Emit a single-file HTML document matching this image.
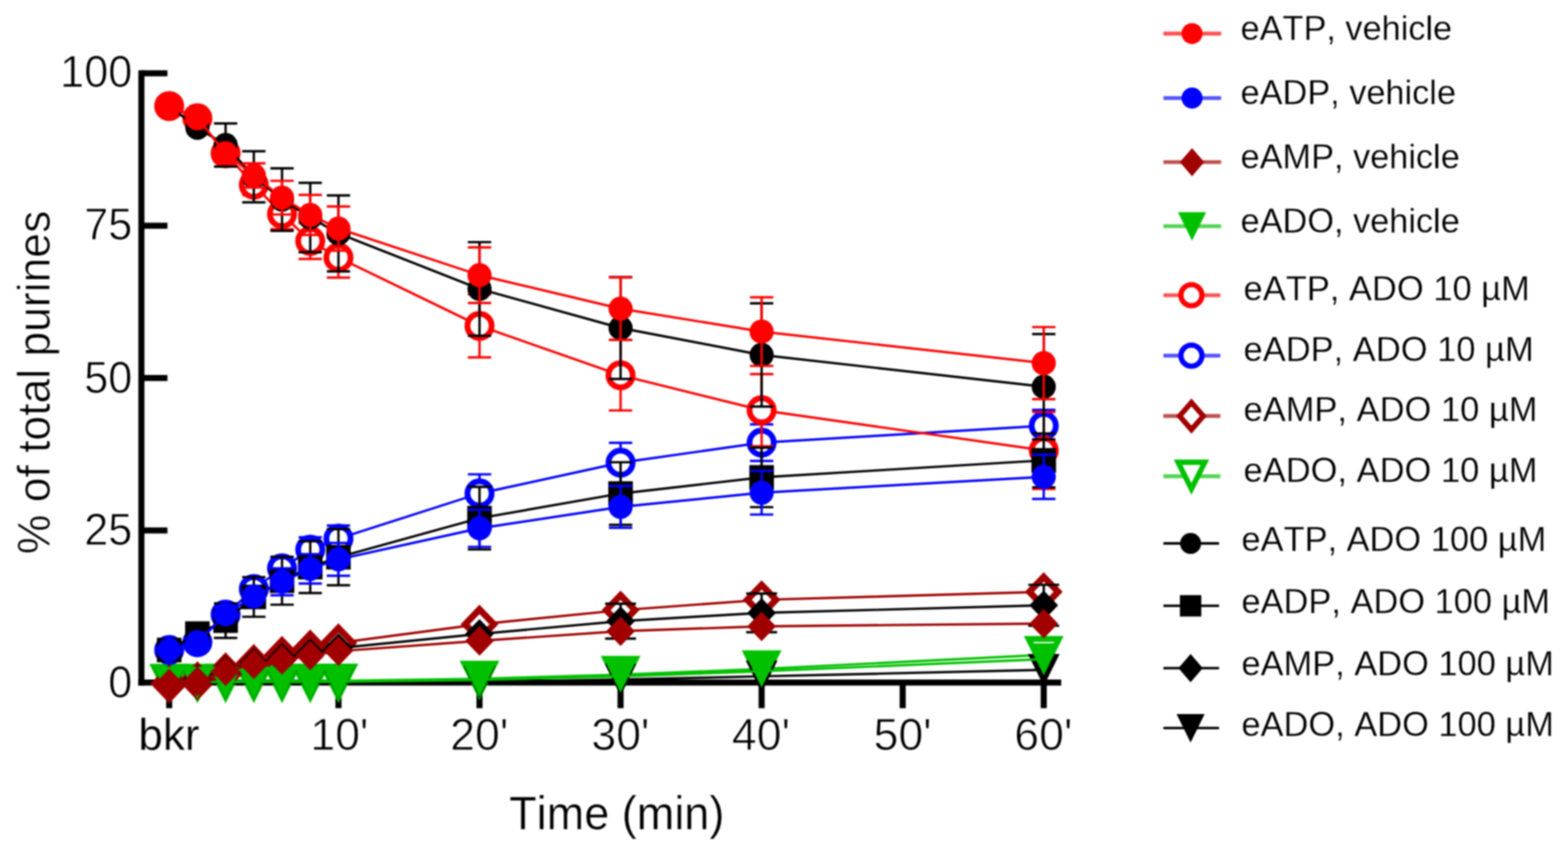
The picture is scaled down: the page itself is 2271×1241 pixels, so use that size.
<!DOCTYPE html>
<html lang="en"><head><meta charset="utf-8"><title>Purine time course</title>
<style>html,body{margin:0;padding:0;background:#fff;}svg{display:block;}text{font-family:"Liberation Sans",Arial,sans-serif;fill:#000;font-kerning:none;stroke:#fff;stroke-width:0.6px;stroke-linejoin:round;}</style>
</head><body>
<svg width="2271" height="1241" viewBox="0 0 2271 1241">
<defs><filter id="soft" x="0" y="0" width="2271" height="1241" filterUnits="userSpaceOnUse" color-interpolation-filters="sRGB"><feGaussianBlur stdDeviation="1"/></filter></defs>
<g filter="url(#soft)">
<rect x="-20" y="-20" width="2311" height="1281" fill="#fff"/>
<g id="axes" stroke="#000" stroke-width="8.8" fill="none" stroke-linecap="butt">
<line x1="204.8" y1="101.8" x2="204.8" y2="992.8"/>
<line x1="200.4" y1="988.4" x2="1537" y2="988.4"/>
<line x1="204.8" y1="768.07" x2="242.5" y2="768.07"/>
<line x1="204.8" y1="547.45" x2="242.5" y2="547.45"/>
<line x1="204.8" y1="326.82" x2="242.5" y2="326.82"/>
<line x1="204.8" y1="106.2" x2="242.5" y2="106.2"/>
<line x1="245.04" y1="988.4" x2="245.04" y2="1025.5"/>
<line x1="490.2" y1="988.4" x2="490.2" y2="1025.5"/>
<line x1="694.5" y1="988.4" x2="694.5" y2="1025.5"/>
<line x1="898.8" y1="988.4" x2="898.8" y2="1025.5"/>
<line x1="1103.1" y1="988.4" x2="1103.1" y2="1025.5"/>
<line x1="1307.4" y1="988.4" x2="1307.4" y2="1025.5"/>
<line x1="1511.7" y1="988.4" x2="1511.7" y2="1025.5"/>
</g>
<g id="S8">
<polyline points="245.04,986.2 285.9,986.2 326.76,986.2 367.62,986.2 408.48,986.2 449.34,986.2 490.2,985.8 694.5,982.9 898.8,976.9 1103.1,968.8 1511.7,948.2" fill="none" stroke="#00c000" stroke-width="3.4" stroke-linejoin="round"/>
<polygon points="223.04,965.5 267.04,965.5 245.04,1009.2" fill="#fff" stroke="#00c000" stroke-width="8.4" stroke-linejoin="miter" stroke-miterlimit="6"/>
<polygon points="263.9,965.5 307.9,965.5 285.9,1009.2" fill="#fff" stroke="#00c000" stroke-width="8.4" stroke-linejoin="miter" stroke-miterlimit="6"/>
<polygon points="304.76,965.5 348.76,965.5 326.76,1009.2" fill="#fff" stroke="#00c000" stroke-width="8.4" stroke-linejoin="miter" stroke-miterlimit="6"/>
<polygon points="345.62,965.5 389.62,965.5 367.62,1009.2" fill="#fff" stroke="#00c000" stroke-width="8.4" stroke-linejoin="miter" stroke-miterlimit="6"/>
<polygon points="386.48,965.5 430.48,965.5 408.48,1009.2" fill="#fff" stroke="#00c000" stroke-width="8.4" stroke-linejoin="miter" stroke-miterlimit="6"/>
<polygon points="427.34,965.5 471.34,965.5 449.34,1009.2" fill="#fff" stroke="#00c000" stroke-width="8.4" stroke-linejoin="miter" stroke-miterlimit="6"/>
<polygon points="468.2,965.1 512.2,965.1 490.2,1008.8" fill="#fff" stroke="#00c000" stroke-width="8.4" stroke-linejoin="miter" stroke-miterlimit="6"/>
<polygon points="672.5,961 716.5,961 694.5,1004.7" fill="#fff" stroke="#00c000" stroke-width="8.4" stroke-linejoin="miter" stroke-miterlimit="6"/>
<polygon points="876.8,954 920.8,954 898.8,997.7" fill="#fff" stroke="#00c000" stroke-width="8.4" stroke-linejoin="miter" stroke-miterlimit="6"/>
<polygon points="1081.1,945.9 1125.1,945.9 1103.1,989.6" fill="#fff" stroke="#00c000" stroke-width="8.4" stroke-linejoin="miter" stroke-miterlimit="6"/>
<polygon points="1489.7,925.3 1533.7,925.3 1511.7,969" fill="#fff" stroke="#00c000" stroke-width="8.4" stroke-linejoin="miter" stroke-miterlimit="6"/>
</g>
<g id="S7">
<polyline points="245.04,990 285.9,986 326.76,973 367.62,961 408.48,949.25 449.34,940 490.2,931 694.5,904 898.8,883.6 1103.1,868.6 1511.7,857" fill="none" stroke="#a00000" stroke-width="3.4" stroke-linejoin="round"/>
<polygon points="245.04,968.4 265.84,990 245.04,1011.6 224.24,990" fill="#fff" stroke="#a00000" stroke-width="9.4" stroke-linejoin="miter" stroke-miterlimit="4"/>
<polygon points="285.9,964.4 306.7,986 285.9,1007.6 265.1,986" fill="#fff" stroke="#a00000" stroke-width="9.4" stroke-linejoin="miter" stroke-miterlimit="4"/>
<polygon points="326.76,951.4 347.56,973 326.76,994.6 305.96,973" fill="#fff" stroke="#a00000" stroke-width="9.4" stroke-linejoin="miter" stroke-miterlimit="4"/>
<polygon points="367.62,939.4 388.42,961 367.62,982.6 346.82,961" fill="#fff" stroke="#a00000" stroke-width="9.4" stroke-linejoin="miter" stroke-miterlimit="4"/>
<polygon points="408.48,927.65 429.28,949.25 408.48,970.85 387.68,949.25" fill="#fff" stroke="#a00000" stroke-width="9.4" stroke-linejoin="miter" stroke-miterlimit="4"/>
<polygon points="449.34,918.4 470.14,940 449.34,961.6 428.54,940" fill="#fff" stroke="#a00000" stroke-width="9.4" stroke-linejoin="miter" stroke-miterlimit="4"/>
<polygon points="490.2,909.4 511,931 490.2,952.6 469.4,931" fill="#fff" stroke="#a00000" stroke-width="9.4" stroke-linejoin="miter" stroke-miterlimit="4"/>
<polygon points="694.5,882.4 715.3,904 694.5,925.6 673.7,904" fill="#fff" stroke="#a00000" stroke-width="9.4" stroke-linejoin="miter" stroke-miterlimit="4"/>
<polygon points="898.8,862 919.6,883.6 898.8,905.2 878,883.6" fill="#fff" stroke="#a00000" stroke-width="9.4" stroke-linejoin="miter" stroke-miterlimit="4"/>
<polygon points="1103.1,847 1123.9,868.6 1103.1,890.2 1082.3,868.6" fill="#fff" stroke="#a00000" stroke-width="9.4" stroke-linejoin="miter" stroke-miterlimit="4"/>
<polygon points="1511.7,835.4 1532.5,857 1511.7,878.6 1490.9,857" fill="#fff" stroke="#a00000" stroke-width="9.4" stroke-linejoin="miter" stroke-miterlimit="4"/>
</g>
<g id="S6">
<polyline points="245.04,941.25 285.9,930 326.76,890 367.62,853 408.48,823 449.34,796 490.2,780 694.5,714.5 898.8,670 1103.1,641 1511.7,616.5" fill="none" stroke="#0000ff" stroke-width="3.4" stroke-linejoin="round"/>
<path d="M408.48 808V838M391.58 808H425.38M391.58 838H425.38M449.34 778V814M432.44 778H466.24M432.44 814H466.24M490.2 761V799M473.3 761H507.1M473.3 799H507.1M694.5 686.9V742.1M677.6 686.9H711.4M677.6 742.1H711.4M898.8 641.25V698.75M881.9 641.25H915.7M881.9 698.75H915.7M1103.1 614.5V667.5M1086.2 614.5H1120M1086.2 667.5H1120M1511.7 593.5V639.5M1494.8 593.5H1528.6M1494.8 639.5H1528.6" fill="none" stroke="#0000ff" stroke-width="3.4"/>
<circle cx="245.04" cy="941.25" r="17.5" fill="#fff" stroke="#0000ff" stroke-width="8.4" stroke-linejoin="miter" stroke-miterlimit="4"/>
<circle cx="285.9" cy="930" r="17.5" fill="#fff" stroke="#0000ff" stroke-width="8.4" stroke-linejoin="miter" stroke-miterlimit="4"/>
<circle cx="326.76" cy="890" r="17.5" fill="#fff" stroke="#0000ff" stroke-width="8.4" stroke-linejoin="miter" stroke-miterlimit="4"/>
<circle cx="367.62" cy="853" r="17.5" fill="#fff" stroke="#0000ff" stroke-width="8.4" stroke-linejoin="miter" stroke-miterlimit="4"/>
<circle cx="408.48" cy="823" r="17.5" fill="#fff" stroke="#0000ff" stroke-width="8.4" stroke-linejoin="miter" stroke-miterlimit="4"/>
<circle cx="449.34" cy="796" r="17.5" fill="#fff" stroke="#0000ff" stroke-width="8.4" stroke-linejoin="miter" stroke-miterlimit="4"/>
<circle cx="490.2" cy="780" r="17.5" fill="#fff" stroke="#0000ff" stroke-width="8.4" stroke-linejoin="miter" stroke-miterlimit="4"/>
<circle cx="694.5" cy="714.5" r="17.5" fill="#fff" stroke="#0000ff" stroke-width="8.4" stroke-linejoin="miter" stroke-miterlimit="4"/>
<circle cx="898.8" cy="670" r="17.5" fill="#fff" stroke="#0000ff" stroke-width="8.4" stroke-linejoin="miter" stroke-miterlimit="4"/>
<circle cx="1103.1" cy="641" r="17.5" fill="#fff" stroke="#0000ff" stroke-width="8.4" stroke-linejoin="miter" stroke-miterlimit="4"/>
<circle cx="1511.7" cy="616.5" r="17.5" fill="#fff" stroke="#0000ff" stroke-width="8.4" stroke-linejoin="miter" stroke-miterlimit="4"/>
</g>
<g id="S5">
<polyline points="245.04,153.6 285.9,171.3 326.76,222 367.62,267.5 408.48,310 449.34,349 490.2,373 694.5,471.9 898.8,543.4 1103.1,594 1511.7,652.3" fill="none" stroke="#ff0000" stroke-width="3.4" stroke-linejoin="round"/>
<path d="M367.62 252.5V282.5M350.72 252.5H384.52M350.72 282.5H384.52M408.48 288V332M391.58 288H425.38M391.58 332H425.38M449.34 323V375M432.44 323H466.24M432.44 375H466.24M490.2 344V402M473.3 344H507.1M473.3 402H507.1M694.5 426.3V517.5M677.6 426.3H711.4M677.6 517.5H711.4M898.8 492.4V594.4M881.9 492.4H915.7M881.9 594.4H915.7M1103.1 541.7V646.3M1086.2 541.7H1120M1086.2 646.3H1120M1511.7 596.6V708M1494.8 596.6H1528.6M1494.8 708H1528.6" fill="none" stroke="#ff0000" stroke-width="3.4"/>
<circle cx="245.04" cy="153.6" r="17.5" fill="#fff" stroke="#ff0000" stroke-width="8.4" stroke-linejoin="miter" stroke-miterlimit="4"/>
<circle cx="285.9" cy="171.3" r="17.5" fill="#fff" stroke="#ff0000" stroke-width="8.4" stroke-linejoin="miter" stroke-miterlimit="4"/>
<circle cx="326.76" cy="222" r="17.5" fill="#fff" stroke="#ff0000" stroke-width="8.4" stroke-linejoin="miter" stroke-miterlimit="4"/>
<circle cx="367.62" cy="267.5" r="17.5" fill="#fff" stroke="#ff0000" stroke-width="8.4" stroke-linejoin="miter" stroke-miterlimit="4"/>
<circle cx="408.48" cy="310" r="17.5" fill="#fff" stroke="#ff0000" stroke-width="8.4" stroke-linejoin="miter" stroke-miterlimit="4"/>
<circle cx="449.34" cy="349" r="17.5" fill="#fff" stroke="#ff0000" stroke-width="8.4" stroke-linejoin="miter" stroke-miterlimit="4"/>
<circle cx="490.2" cy="373" r="17.5" fill="#fff" stroke="#ff0000" stroke-width="8.4" stroke-linejoin="miter" stroke-miterlimit="4"/>
<circle cx="694.5" cy="471.9" r="17.5" fill="#fff" stroke="#ff0000" stroke-width="8.4" stroke-linejoin="miter" stroke-miterlimit="4"/>
<circle cx="898.8" cy="543.4" r="17.5" fill="#fff" stroke="#ff0000" stroke-width="8.4" stroke-linejoin="miter" stroke-miterlimit="4"/>
<circle cx="1103.1" cy="594" r="17.5" fill="#fff" stroke="#ff0000" stroke-width="8.4" stroke-linejoin="miter" stroke-miterlimit="4"/>
<circle cx="1511.7" cy="652.3" r="17.5" fill="#fff" stroke="#ff0000" stroke-width="8.4" stroke-linejoin="miter" stroke-miterlimit="4"/>
</g>
<g id="S12">
<polyline points="245.04,989 285.9,989 326.76,989 367.62,989 408.48,989 449.34,989 490.2,989 694.5,987.5 898.8,984 1103.1,979.4 1511.7,970" fill="none" stroke="#000000" stroke-width="3.4" stroke-linejoin="round"/>
<polygon points="222.04,966 268.04,966 245.04,1012.6" fill="#000000"/>
<polygon points="262.9,966 308.9,966 285.9,1012.6" fill="#000000"/>
<polygon points="303.76,966 349.76,966 326.76,1012.6" fill="#000000"/>
<polygon points="344.62,966 390.62,966 367.62,1012.6" fill="#000000"/>
<polygon points="385.48,966 431.48,966 408.48,1012.6" fill="#000000"/>
<polygon points="426.34,966 472.34,966 449.34,1012.6" fill="#000000"/>
<polygon points="467.2,966 513.2,966 490.2,1012.6" fill="#000000"/>
<polygon points="671.5,964.5 717.5,964.5 694.5,1011.1" fill="#000000"/>
<polygon points="875.8,961 921.8,961 898.8,1007.6" fill="#000000"/>
<polygon points="1080.1,956.4 1126.1,956.4 1103.1,1003" fill="#000000"/>
<polygon points="1488.7,947 1534.7,947 1511.7,993.6" fill="#000000"/>
</g>
<g id="S11">
<polyline points="245.04,990 285.9,984 326.76,971 367.62,960 408.48,952.6 449.34,945.75 490.2,938.5 694.5,918 898.8,899.5 1103.1,887.5 1511.7,876.5" fill="none" stroke="#000000" stroke-width="3.4" stroke-linejoin="round"/>
<path d="M898.8 874.2V924.8M876.4 874.2H921.2M876.4 924.8H921.2M1103.1 859.5V915.5M1080.7 859.5H1125.5M1080.7 915.5H1125.5M1511.7 846.9V906.1M1489.3 846.9H1534.1M1489.3 906.1H1534.1" fill="none" stroke="#000000" stroke-width="3.4"/>
<polygon points="285.9,962.4 306.7,984 285.9,1005.6 265.1,984" fill="#000000"/>
<polygon points="326.76,949.4 347.56,971 326.76,992.6 305.96,971" fill="#000000"/>
<polygon points="367.62,938.4 388.42,960 367.62,981.6 346.82,960" fill="#000000"/>
<polygon points="408.48,931 429.28,952.6 408.48,974.2 387.68,952.6" fill="#000000"/>
<polygon points="449.34,924.15 470.14,945.75 449.34,967.35 428.54,945.75" fill="#000000"/>
<polygon points="490.2,916.9 511,938.5 490.2,960.1 469.4,938.5" fill="#000000"/>
<polygon points="694.5,896.4 715.3,918 694.5,939.6 673.7,918" fill="#000000"/>
<polygon points="898.8,877.9 919.6,899.5 898.8,921.1 878,899.5" fill="#000000"/>
<polygon points="1103.1,865.9 1123.9,887.5 1103.1,909.1 1082.3,887.5" fill="#000000"/>
<polygon points="1511.7,854.9 1532.5,876.5 1511.7,898.1 1490.9,876.5" fill="#000000"/>
</g>
<g id="S10">
<polyline points="245.04,941.25 285.9,917.5 326.76,898.75 367.62,864.4 408.48,840.9 449.34,821.25 490.2,806.9 694.5,750.3 898.8,714.7 1103.1,691.3 1511.7,666.6" fill="none" stroke="#000000" stroke-width="3.4" stroke-linejoin="round"/>
<path d="M326.76 873.75V923.75M309.86 873.75H343.66M309.86 923.75H343.66M367.62 835.65V893.15M350.72 835.65H384.52M350.72 893.15H384.52M408.48 806.2V875.6M391.58 806.2H425.38M391.58 875.6H425.38M449.34 783.75V858.75M432.44 783.75H466.24M432.44 858.75H466.24M490.2 766.3V847.5M473.3 766.3H507.1M473.3 847.5H507.1M694.5 705V795.6M677.6 705H711.4M677.6 795.6H711.4M898.8 669.4V760M881.9 669.4H915.7M881.9 760H915.7M1103.1 648.2V734.4M1086.2 648.2H1120M1086.2 734.4H1120M1511.7 627.6V705.6M1494.8 627.6H1528.6M1494.8 705.6H1528.6" fill="none" stroke="#000000" stroke-width="3.4"/>
<rect x="227.24" y="923.45" width="35.6" height="35.6" fill="#000000"/>
<rect x="268.1" y="899.7" width="35.6" height="35.6" fill="#000000"/>
<rect x="308.96" y="880.95" width="35.6" height="35.6" fill="#000000"/>
<rect x="349.82" y="846.6" width="35.6" height="35.6" fill="#000000"/>
<rect x="390.68" y="823.1" width="35.6" height="35.6" fill="#000000"/>
<rect x="431.54" y="803.45" width="35.6" height="35.6" fill="#000000"/>
<rect x="472.4" y="789.1" width="35.6" height="35.6" fill="#000000"/>
<rect x="676.7" y="732.5" width="35.6" height="35.6" fill="#000000"/>
<rect x="881" y="696.9" width="35.6" height="35.6" fill="#000000"/>
<rect x="1085.3" y="673.5" width="35.6" height="35.6" fill="#000000"/>
<rect x="1493.9" y="648.8" width="35.6" height="35.6" fill="#000000"/>
</g>
<g id="S9">
<polyline points="245.04,153.6 285.9,185 326.76,210 367.62,256 408.48,289 449.34,315 490.2,338 694.5,418.4 898.8,475 1103.1,514 1511.7,560" fill="none" stroke="#000000" stroke-width="3.4" stroke-linejoin="round"/>
<path d="M326.76 178.7V241.3M309.86 178.7H343.66M309.86 241.3H343.66M367.62 219V293M350.72 219H384.52M350.72 293H384.52M408.48 243.7V334.3M391.58 243.7H425.38M391.58 334.3H425.38M449.34 264.7V365.3M432.44 264.7H466.24M432.44 365.3H466.24M490.2 283V393M473.3 283H507.1M473.3 393H507.1M694.5 350.6V486.2M677.6 350.6H711.4M677.6 486.2H711.4M898.8 401.3V548.7M881.9 401.3H915.7M881.9 548.7H915.7M1103.1 439.3V588.7M1086.2 439.3H1120M1086.2 588.7H1120M1511.7 483.75V636.25M1494.8 483.75H1528.6M1494.8 636.25H1528.6" fill="none" stroke="#000000" stroke-width="3.4"/>
<circle cx="285.9" cy="185" r="17.5" fill="#000000"/>
<circle cx="326.76" cy="210" r="17.5" fill="#000000"/>
<circle cx="367.62" cy="256" r="17.5" fill="#000000"/>
<circle cx="408.48" cy="289" r="17.5" fill="#000000"/>
<circle cx="449.34" cy="315" r="17.5" fill="#000000"/>
<circle cx="490.2" cy="338" r="17.5" fill="#000000"/>
<circle cx="694.5" cy="418.4" r="17.5" fill="#000000"/>
<circle cx="898.8" cy="475" r="17.5" fill="#000000"/>
<circle cx="1103.1" cy="514" r="17.5" fill="#000000"/>
<circle cx="1511.7" cy="560" r="17.5" fill="#000000"/>
</g>
<g id="S4">
<polyline points="245.04,987.6 285.9,987.6 326.76,987.6 367.62,987.6 408.48,987.6 449.34,987.6 490.2,987.3 694.5,984.5 898.8,979.5 1103.1,972 1511.7,954.5" fill="none" stroke="#00c000" stroke-width="3.4" stroke-linejoin="round"/>
<polygon points="222.04,965.6 268.04,965.6 245.04,1012.2" fill="#00c000"/>
<polygon points="262.9,965.6 308.9,965.6 285.9,1012.2" fill="#00c000"/>
<polygon points="303.76,965.6 349.76,965.6 326.76,1012.2" fill="#00c000"/>
<polygon points="344.62,965.6 390.62,965.6 367.62,1012.2" fill="#00c000"/>
<polygon points="385.48,965.6 431.48,965.6 408.48,1012.2" fill="#00c000"/>
<polygon points="426.34,965.6 472.34,965.6 449.34,1012.2" fill="#00c000"/>
<polygon points="467.2,965.3 513.2,965.3 490.2,1011.9" fill="#00c000"/>
<polygon points="671.5,962.5 717.5,962.5 694.5,1009.1" fill="#00c000"/>
<polygon points="875.8,956.5 921.8,956.5 898.8,1003.1" fill="#00c000"/>
<polygon points="1080.1,949 1126.1,949 1103.1,995.6" fill="#00c000"/>
<polygon points="1488.7,931.5 1534.7,931.5 1511.7,978.1" fill="#00c000"/>
</g>
<g id="S3">
<polyline points="245.04,990 285.9,986.5 326.76,972 367.62,962 408.48,955.5 449.34,949.25 490.2,943 694.5,928 898.8,914 1103.1,907 1511.7,903" fill="none" stroke="#a00000" stroke-width="3.4" stroke-linejoin="round"/>
<polygon points="245.04,968.4 265.84,990 245.04,1011.6 224.24,990" fill="#a00000"/>
<polygon points="285.9,964.9 306.7,986.5 285.9,1008.1 265.1,986.5" fill="#a00000"/>
<polygon points="326.76,950.4 347.56,972 326.76,993.6 305.96,972" fill="#a00000"/>
<polygon points="367.62,940.4 388.42,962 367.62,983.6 346.82,962" fill="#a00000"/>
<polygon points="408.48,933.9 429.28,955.5 408.48,977.1 387.68,955.5" fill="#a00000"/>
<polygon points="449.34,927.65 470.14,949.25 449.34,970.85 428.54,949.25" fill="#a00000"/>
<polygon points="490.2,921.4 511,943 490.2,964.6 469.4,943" fill="#a00000"/>
<polygon points="694.5,906.4 715.3,928 694.5,949.6 673.7,928" fill="#a00000"/>
<polygon points="898.8,892.4 919.6,914 898.8,935.6 878,914" fill="#a00000"/>
<polygon points="1103.1,885.4 1123.9,907 1103.1,928.6 1082.3,907" fill="#a00000"/>
<polygon points="1511.7,881.4 1532.5,903 1511.7,924.6 1490.9,903" fill="#a00000"/>
</g>
<g id="S2">
<polyline points="245.04,941.25 285.9,930 326.76,889.4 367.62,863.75 408.48,842.5 449.34,823.75 490.2,810 694.5,765 898.8,734 1103.1,713.5 1511.7,690.5" fill="none" stroke="#0000ff" stroke-width="3.4" stroke-linejoin="round"/>
<path d="M408.48 823V862M391.58 823H425.38M391.58 862H425.38M449.34 802.5V845M432.44 802.5H466.24M432.44 845H466.24M490.2 786.25V833.75M473.3 786.25H507.1M473.3 833.75H507.1M694.5 738.1V791.9M677.6 738.1H711.4M677.6 791.9H711.4M898.8 703.7V764.3M881.9 703.7H915.7M881.9 764.3H915.7M1103.1 681.9V745.1M1086.2 681.9H1120M1086.2 745.1H1120M1511.7 658.5V722.5M1494.8 658.5H1528.6M1494.8 722.5H1528.6" fill="none" stroke="#0000ff" stroke-width="3.4"/>
<circle cx="245.04" cy="941.25" r="17.5" fill="#0000ff"/>
<circle cx="285.9" cy="930" r="17.5" fill="#0000ff"/>
<circle cx="326.76" cy="889.4" r="17.5" fill="#0000ff"/>
<circle cx="367.62" cy="863.75" r="17.5" fill="#0000ff"/>
<circle cx="408.48" cy="842.5" r="17.5" fill="#0000ff"/>
<circle cx="449.34" cy="823.75" r="17.5" fill="#0000ff"/>
<circle cx="490.2" cy="810" r="17.5" fill="#0000ff"/>
<circle cx="694.5" cy="765" r="17.5" fill="#0000ff"/>
<circle cx="898.8" cy="734" r="17.5" fill="#0000ff"/>
<circle cx="1103.1" cy="713.5" r="17.5" fill="#0000ff"/>
<circle cx="1511.7" cy="690.5" r="17.5" fill="#0000ff"/>
</g>
<g id="S1">
<polyline points="245.04,153.6 285.9,171.3 326.76,221.9 367.62,254 408.48,286.25 449.34,311.25 490.2,331 694.5,398.5 898.8,447 1103.1,480.2 1511.7,525.8" fill="none" stroke="#ff0000" stroke-width="3.4" stroke-linejoin="round"/>
<path d="M367.62 236.5V271.5M350.72 236.5H384.52M350.72 271.5H384.52M408.48 261.85V310.65M391.58 261.85H425.38M391.58 310.65H425.38M449.34 282.25V340.25M432.44 282.25H466.24M432.44 340.25H466.24M490.2 299V363M473.3 299H507.1M473.3 363H507.1M694.5 358.2V438.8M677.6 358.2H711.4M677.6 438.8H711.4M898.8 401.7V492.3M881.9 401.7H915.7M881.9 492.3H915.7M1103.1 430.5V529.9M1086.2 430.5H1120M1086.2 529.9H1120M1511.7 473.6V578M1494.8 473.6H1528.6M1494.8 578H1528.6" fill="none" stroke="#ff0000" stroke-width="3.4"/>
<circle cx="245.04" cy="153.6" r="17.5" fill="#ff0000"/>
<circle cx="285.9" cy="171.3" r="17.5" fill="#ff0000"/>
<circle cx="326.76" cy="221.9" r="17.5" fill="#ff0000"/>
<circle cx="367.62" cy="254" r="17.5" fill="#ff0000"/>
<circle cx="408.48" cy="286.25" r="17.5" fill="#ff0000"/>
<circle cx="449.34" cy="311.25" r="17.5" fill="#ff0000"/>
<circle cx="490.2" cy="331" r="17.5" fill="#ff0000"/>
<circle cx="694.5" cy="398.5" r="17.5" fill="#ff0000"/>
<circle cx="898.8" cy="447" r="17.5" fill="#ff0000"/>
<circle cx="1103.1" cy="480.2" r="17.5" fill="#ff0000"/>
<circle cx="1511.7" cy="525.8" r="17.5" fill="#ff0000"/>
</g>
<g id="yticks">
<text transform="translate(191.6 1009.8) scale(0.97 1)" font-size="64.6" text-anchor="end" style="stroke-width:1px">0</text>
<text transform="translate(191.6 789.17) scale(0.97 1)" font-size="64.6" text-anchor="end" style="stroke-width:1px">25</text>
<text transform="translate(191.6 568.65) scale(0.97 1)" font-size="64.6" text-anchor="end" style="stroke-width:1px">50</text>
<text transform="translate(191.6 347.02) scale(0.97 1)" font-size="64.6" text-anchor="end" style="stroke-width:1px">75</text>
<text transform="translate(191.6 126.4) scale(0.97 1)" font-size="64.6" text-anchor="end" style="stroke-width:1px">100</text>
</g>
<g id="xticks">
<text transform="translate(244.8 1086.3) scale(0.985 1)" font-size="64.6" text-anchor="middle" style="stroke-width:0.3px">bkr</text>
<text transform="translate(491.6 1086.3) scale(1 1)" font-size="64.6" text-anchor="middle" style="stroke-width:1px">10'</text>
<text transform="translate(694.2 1086.3) scale(1 1)" font-size="64.6" text-anchor="middle" style="stroke-width:1px">20'</text>
<text transform="translate(898.6 1086.3) scale(1 1)" font-size="64.6" text-anchor="middle" style="stroke-width:1px">30'</text>
<text transform="translate(1102.2 1086.3) scale(1 1)" font-size="64.6" text-anchor="middle" style="stroke-width:1px">40'</text>
<text transform="translate(1307.3 1086.3) scale(1 1)" font-size="64.6" text-anchor="middle" style="stroke-width:1px">50'</text>
<text transform="translate(1511.2 1086.3) scale(1 1)" font-size="64.6" text-anchor="middle" style="stroke-width:1px">60'</text>
</g>
<text id="xtitle" transform="translate(893.3 1201) scale(0.951 1)" font-size="68.6" text-anchor="middle" style="stroke-width:0.5px">Time (min)</text>
<text id="ytitle" transform="translate(72.3 553.8) rotate(-90) scale(0.971 1)" font-size="66.3" text-anchor="middle" style="stroke-width:0.8px">% of total purines</text>
<g id="legend">
<line x1="1685" y1="48.6" x2="1768.6" y2="48.6" stroke="#ff0000" stroke-width="5.6" stroke-opacity="0.68"/>
<circle cx="1726.5" cy="48.6" r="15.22" fill="#ff0000"/>
<text transform="translate(1796.8 58.1) scale(0.982 1)" font-size="50.6" style="stroke-width:0.3px">eATP, vehicle</text>
<line x1="1685" y1="142" x2="1768.6" y2="142" stroke="#0000ff" stroke-width="5.6" stroke-opacity="0.68"/>
<circle cx="1726.5" cy="142" r="15.22" fill="#0000ff"/>
<text transform="translate(1796.8 150.8) scale(0.982 1)" font-size="50.6" style="stroke-width:0.3px">eADP, vehicle</text>
<line x1="1685" y1="234.8" x2="1768.6" y2="234.8" stroke="#a00000" stroke-width="5.6" stroke-opacity="0.68"/>
<polygon points="1726.5,214.4 1744.1,234.8 1726.5,255.2 1708.9,234.8" fill="#a00000"/>
<text transform="translate(1796.8 244.4) scale(0.982 1)" font-size="50.6" style="stroke-width:0.3px">eAMP, vehicle</text>
<line x1="1685" y1="327.5" x2="1768.6" y2="327.5" stroke="#00c000" stroke-width="5.6" stroke-opacity="0.68"/>
<polygon points="1706.14,307.14 1746.86,307.14 1726.5,348.39" fill="#00c000"/>
<text transform="translate(1796.8 337.2) scale(0.982 1)" font-size="50.6" style="stroke-width:0.3px">eADO, vehicle</text>
<line x1="1685" y1="427.5" x2="1767.5" y2="427.5" stroke="#ff0000" stroke-width="5.6" stroke-opacity="0.68"/>
<circle cx="1725.6" cy="427.5" r="15.22" fill="#fff" stroke="#ff0000" stroke-width="7.6" stroke-linejoin="miter" stroke-miterlimit="4"/>
<text transform="translate(1801.1 435) scale(0.9874 1)" font-size="50.6" style="stroke-width:0.3px">eATP, ADO 10 µM</text>
<line x1="1685" y1="515" x2="1767.5" y2="515" stroke="#0000ff" stroke-width="5.6" stroke-opacity="0.68"/>
<circle cx="1725.6" cy="515" r="15.22" fill="#fff" stroke="#0000ff" stroke-width="7.6" stroke-linejoin="miter" stroke-miterlimit="4"/>
<text transform="translate(1801.1 522.5) scale(0.9874 1)" font-size="50.6" style="stroke-width:0.3px">eADP, ADO 10 µM</text>
<line x1="1685" y1="602.4" x2="1767.5" y2="602.4" stroke="#a00000" stroke-width="5.6" stroke-opacity="0.68"/>
<polygon points="1725.6,582.7 1742.8,602.4 1725.6,622.1 1708.4,602.4" fill="#fff" stroke="#a00000" stroke-width="7.6" stroke-linejoin="miter" stroke-miterlimit="4"/>
<text transform="translate(1801.1 610.3) scale(0.9874 1)" font-size="50.6" style="stroke-width:0.3px">eAMP, ADO 10 µM</text>
<line x1="1685" y1="689.6" x2="1767.5" y2="689.6" stroke="#00c000" stroke-width="5.6" stroke-opacity="0.68"/>
<polygon points="1706.13,669.33 1745.07,669.33 1725.6,708.01" fill="#fff" stroke="#00c000" stroke-width="7.6" stroke-linejoin="miter" stroke-miterlimit="6"/>
<text transform="translate(1801.1 697.8) scale(0.9874 1)" font-size="50.6" style="stroke-width:0.3px">eADO, ADO 10 µM</text>
<line x1="1685" y1="786.9" x2="1765.6" y2="786.9" stroke="#000000" stroke-width="3.6" stroke-opacity="1"/>
<circle cx="1724.4" cy="786.9" r="15.22" fill="#000000"/>
<text transform="translate(1798 797.5) scale(0.9854 1)" font-size="50.6" style="stroke-width:0.3px">eATP, ADO 100 µM</text>
<line x1="1685" y1="877.3" x2="1765.6" y2="877.3" stroke="#000000" stroke-width="3.6" stroke-opacity="1"/>
<rect x="1708.91" y="861.81" width="30.97" height="30.97" fill="#000000"/>
<text transform="translate(1798 887.5) scale(0.9854 1)" font-size="50.6" style="stroke-width:0.3px">eADP, ADO 100 µM</text>
<line x1="1685" y1="967.5" x2="1765.6" y2="967.5" stroke="#000000" stroke-width="3.6" stroke-opacity="1"/>
<polygon points="1724.4,947.1 1742,967.5 1724.4,987.9 1706.8,967.5" fill="#000000"/>
<text transform="translate(1798 978) scale(0.9854 1)" font-size="50.6" style="stroke-width:0.3px">eAMP, ADO 100 µM</text>
<line x1="1685" y1="1054.3" x2="1765.6" y2="1054.3" stroke="#000000" stroke-width="3.6" stroke-opacity="1"/>
<polygon points="1704.05,1033.94 1744.76,1033.94 1724.4,1075.19" fill="#000000"/>
<text transform="translate(1798 1065.5) scale(0.9854 1)" font-size="50.6" style="stroke-width:0.3px">eADO, ADO 100 µM</text>
</g>
</g>
</svg>
</body></html>
